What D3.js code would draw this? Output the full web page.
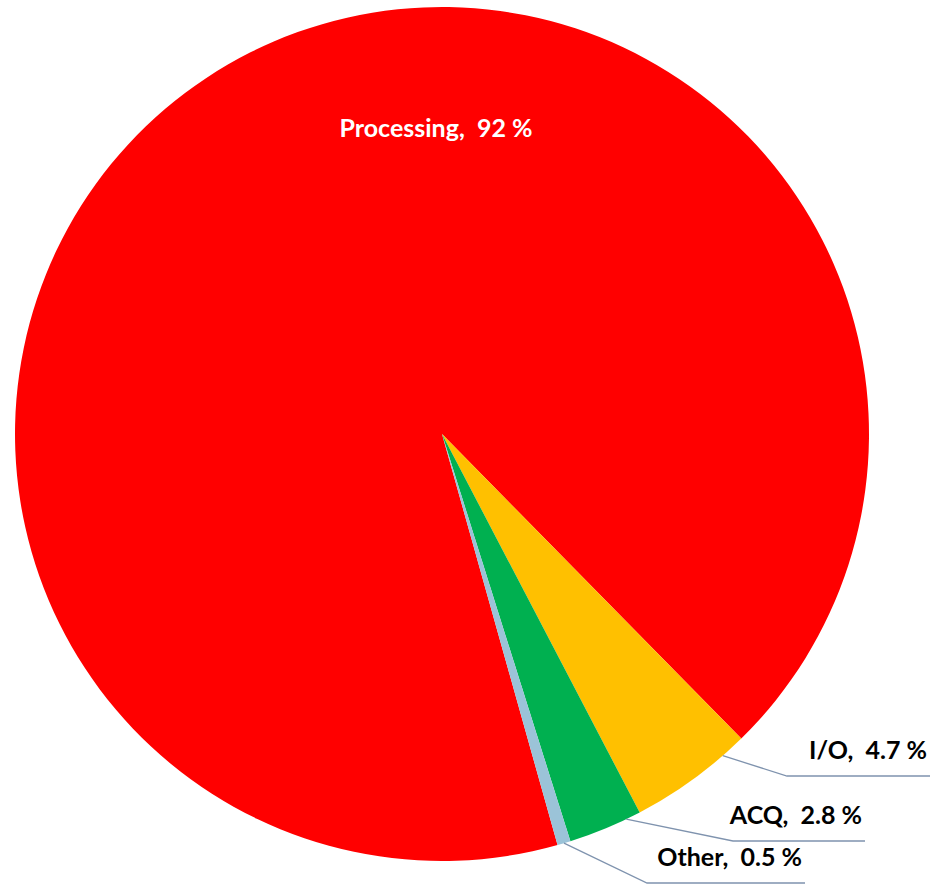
<!DOCTYPE html>
<html>
<head>
<meta charset="utf-8">
<script src="https://cdn.jsdelivr.net/npm/d3@7"></script>
<style>
  html, body { margin: 0; padding: 0; background: #fff; }
  svg text { font-family: Lato, "Open Sans", sans-serif; font-weight: bold; white-space: pre; }
</style>
</head>
<body>
<div id="chart"></div>
<script>
  // slices in drawing order, clockwise
  const categories = ["Processing", "I/O", "ACQ", "Other"];
  const shares = [92, 4.7, 2.8, 0.5];
  const valueLabels = ["92 %", "4.7 %", "2.8 %", "0.5 %"];
  const colors = ["#ff0000", "#ffc000", "#00b050", "#9bc3d8"];

  (function(){
    const W = 930, H = 884, CX = 442, CY = 434, R = 427;
    const svg = d3.select('#chart').append('svg')
      .attr('width', W).attr('height', H);

    const deg = Math.PI / 180;
    // Processing ends where I/O begins, at about 135.5 deg from 12 o'clock
    const total = d3.sum(shares);
    const start = 135.5 * deg - 2 * Math.PI * shares[0] / total;

    const pie = d3.pie().sort(null).value(d => d.v)
      .startAngle(start).endAngle(start + 2 * Math.PI);
    const data = categories.map((c, i) => ({ c, v: shares[i], lab: valueLabels[i], col: colors[i] }));
    const arcs = pie(data);

    const arc = d3.arc().innerRadius(0).outerRadius(R);
    const g = svg.append('g').attr('transform', `translate(${CX},${CY})`);

    g.selectAll('path.slice').data(arcs).enter().append('path')
      .attr('class', 'slice')
      .attr('d', arc)
      .attr('fill', d => d.data.col);

    const pt = (a, r) => [r * Math.sin(a), -r * Math.cos(a)];

    // big slice label, inside
    const p0 = arcs[0];
    g.append('text')
      .attr('x', -6).attr('y', 137 - CY)
      .attr('text-anchor', 'middle')
      .attr('fill', '#fff')
      .style('font-size', '25px')
      .text(`${p0.data.c},  ${p0.data.lab}`);

    // outside labels with leader lines: fraction along slice, elbow, line end
    const layout = {
      "I/O":   { f: 0.2, elbow: [787, 776], end: 930 },
      "ACQ":   { f: 0.2, elbow: [733, 841], end: 865 },
      "Other": { f: 0.5, elbow: [647, 883], end: 805 }
    };

    arcs.slice(1).forEach(d => {
      const L = layout[d.data.c];
      const a = d.startAngle + (d.endAngle - d.startAngle) * L.f;
      const s = pt(a, R);
      const ex = L.elbow[0] - CX, ey = L.elbow[1] - CY;
      g.append('path')
        .attr('d', d3.line()([[s[0], s[1]], [ex, ey], [L.end - CX, ey]]))
        .attr('fill', 'none')
        .attr('stroke', '#7f93ae')
        .attr('stroke-width', 1.3);
      g.append('text')
        .attr('x', L.end - CX - 3).attr('y', ey - 17)
        .attr('text-anchor', 'end')
        .attr('fill', '#000')
        .style('font-size', '25px')
        .text(`${d.data.c},  ${d.data.lab}`);
    });
  })();
</script>
</body>
</html>
